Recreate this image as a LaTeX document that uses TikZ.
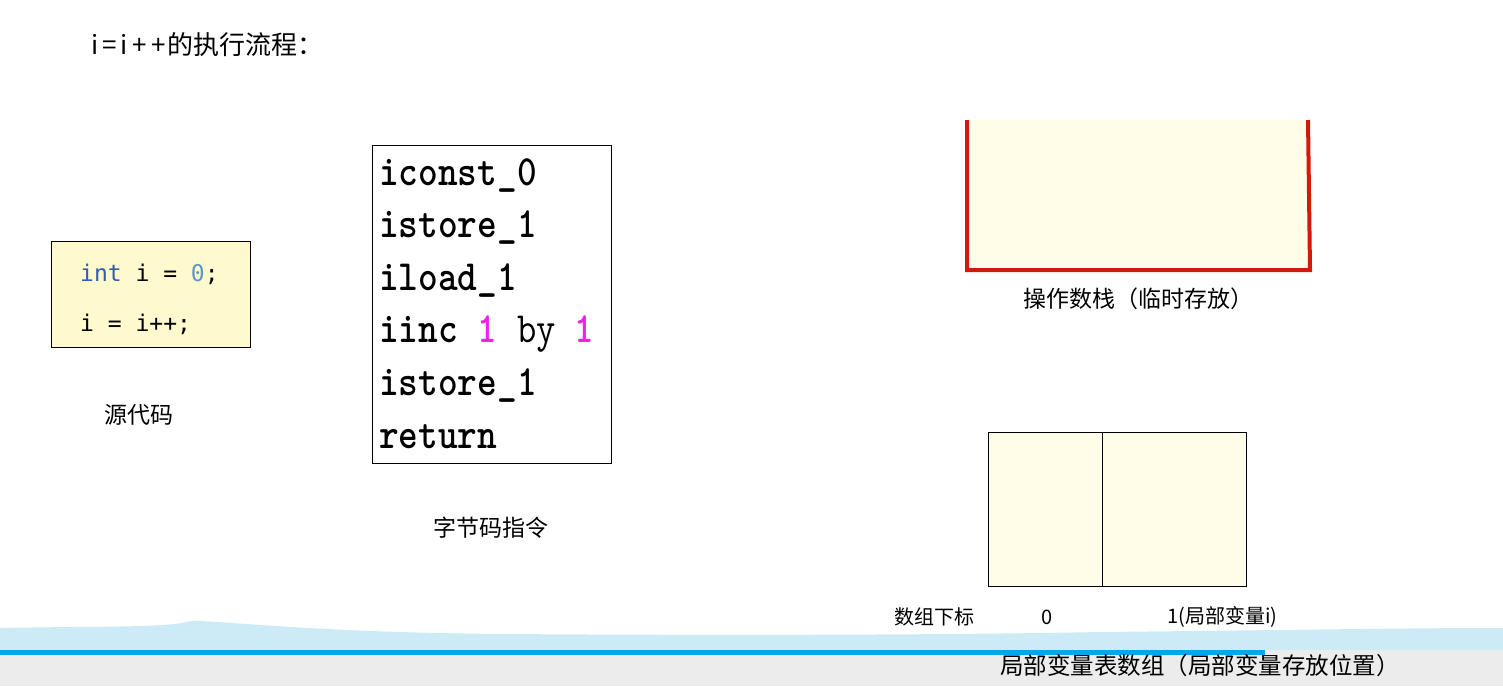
\documentclass[tikz,border=0pt]{standalone}
\usepackage{fontspec}
\usepackage{graphicx}
\setmainfont{Noto Sans CJK SC}
\newfontfamily\codefont{DejaVu Sans Mono}
\definecolor{codeyellow}{HTML}{FFFACD}
\definecolor{paleyellow}{HTML}{FFFDE7}
\definecolor{stackred}{HTML}{D01A0A}
\definecolor{kwblue}{HTML}{2F5FA8}
\definecolor{numblue}{HTML}{5E93CF}
\definecolor{bcmag}{HTML}{F020F0}
\definecolor{bandblue}{HTML}{CDEBF7}
\definecolor{barblue}{HTML}{00A8E8}
\definecolor{bargrey}{HTML}{ECECEC}
\tikzset{
  lbl/.style={inner sep=0pt, anchor=west, font=\fontsize{23}{27}\selectfont},
  codeln/.style={inner sep=0pt, anchor=base west, font=\codefont\fontsize{23}{27}\selectfont},
  bcln/.style={inner sep=0pt, anchor=base west, font=\ttfamily\bfseries\fontsize{37.5}{42}\selectfont},
  thinbox/.style={draw=black, line width=1.2pt}
}
\newcommand{\bct}[1]{\scalebox{1}[1.15]{#1}}
\begin{document}
\begin{tikzpicture}[x=1pt,y=-1pt]
\useasboundingbox (0,0) rectangle (1503,686);
\fill[white] (0,0) rectangle (1503,686);
% title
\node[lbl, font=\fontsize{26}{30}\selectfont] (title) at (91,45) {i\hspace{4pt}=\hspace{4pt}i\hspace{5pt}+\hspace{4pt}+\hspace{2pt}的执行流程：};
% source code box
\node[thinbox, fill=codeyellow, minimum width=199pt, minimum height=106pt, anchor=north west, inner sep=0pt] (src) at (51,241) {};
\node[codeln] (l1) at (80,281) {\textcolor{kwblue}{int} i = \textcolor{numblue}{0};};
\node[codeln] (l2) at (80,331) {i = i++;};
\node[lbl] (srclbl) at (104,415) {源代码};
% bytecode box
\node[thinbox, fill=white, minimum width=239pt, minimum height=318pt, anchor=north west, inner sep=0pt] (bc) at (372,145) {};
\node[bcln] (b1) at (379,185) {\bct{iconst\_0}};
\node[bcln] (b2) at (379,237.5) {\bct{istore\_1}};
\node[bcln] (b3) at (379,290) {\bct{iload\_1}};
\node[bcln] (b4) at (379,342.5) {\bct{iinc \textcolor{bcmag}{1} \mdseries by \bfseries\textcolor{bcmag}{1}}};
\node[bcln] (b5) at (379,395) {\bct{istore\_1}};
\node[bcln] (b6) at (379,448) {\bct{return}};
\node[lbl] (bclbl) at (433,528) {字节码指令};
% operand stack
\fill[paleyellow] (967,120) rectangle (1308,270);
\draw[stackred, line width=4pt, line join=miter] (967,120) -- (967,270) -- (1310,270) -- (1308,120);
\node[lbl] (stklbl) at (1023,299) {操作数栈（临时存放）};
% local variable table
\node[thinbox, fill=paleyellow, minimum width=114pt, minimum height=154pt, anchor=north west, inner sep=0pt] (lv0) at (988,432) {};
\node[thinbox, fill=paleyellow, minimum width=144pt, minimum height=154pt, anchor=north west, inner sep=0pt] (lv1) at (1102,432) {};
\node[lbl, font=\fontsize{20}{24}\selectfont] (idx) at (894,617) {数组下标};
\node[lbl, font=\fontsize{20}{24}\selectfont] (i0) at (1041,617) {0};
\node[lbl, font=\fontsize{20}{24}\selectfont] (i1) at (1167,617) {1(局部变量i)};
% bottom player overlay
\fill[bandblue] (0,628) .. controls (100,626) and (170,628) .. (190,621) .. controls (220,620) and (300,632) .. (500,634) .. controls (800,636) and (1000,634) .. (1100,632) .. controls (1300,630) and (1400,628) .. (1503,628) -- (1503,650) -- (0,650) -- cycle;
\fill[bargrey] (0,650) rectangle (1503,686);
\fill[barblue] (0,650) rectangle (1265,655);
\node[lbl, font=\fontsize{23.5}{27}\selectfont] (lvlbl) at (1000,666) {局部变量表数组（局部变量存放位置）};
\end{tikzpicture}
\end{document}
